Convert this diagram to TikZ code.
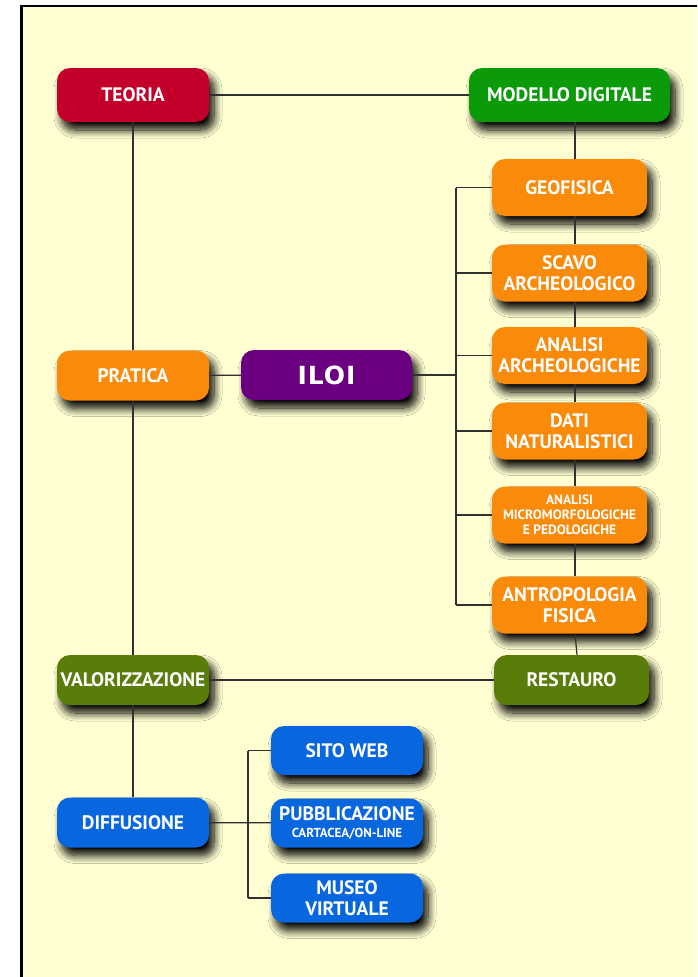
\documentclass[tikz,border=0pt]{standalone}
\usepackage{fontspec}
\setsansfont{PT Sans}
\newfontfamily\iloifont[LetterSpace=4]{DejaVu Sans}
\usepackage{xcolor}
\usepackage{tikz}
\usetikzlibrary{shadows.blur}

\definecolor{paper}{HTML}{FFFFD2}
\definecolor{theoryred}{HTML}{C3002B}
\definecolor{modelgreen}{HTML}{0A9A0A}
\definecolor{fieldorange}{HTML}{FA8A0A}
\definecolor{iloipurple}{HTML}{6A0080}
\definecolor{olive}{HTML}{5A7D0A}
\definecolor{webblue}{HTML}{0866DF}
\definecolor{wire}{HTML}{303030}

\begin{document}
\begin{tikzpicture}[
  x=1pt, y=-1pt,
  every node/.style={font=\sffamily\bfseries\fontsize{19.5}{21}\selectfont},
  box/.style={rounded corners=13pt, minimum width=152pt, minimum height=50pt, inner xsep=1pt,
    align=center, text=white,
    blur shadow={shadow xshift=5pt, shadow yshift=-8pt, shadow blur radius=8pt, shadow blur steps=10, shadow opacity=100}},
  topbox/.style={box, minimum height=54pt},
  fieldbox/.style={box, fill=fieldorange, minimum width=155pt, minimum height=57pt},
  webbox/.style={box, fill=webblue, minimum height=49pt},
  small/.style={font=\sffamily\bfseries\fontsize{13.5}{15}\selectfont},
  conn/.style={draw=wire, line width=1.2pt}
]
% frame
\useasboundingbox (0,0) rectangle (697,977);
\clip (0,0) rectangle (697,977);
\fill[white] (0,0) rectangle (697,977);
\draw[fill=paper, line width=2.5pt] (21.3,6.2) rectangle (720,1000);

% left column
\node[topbox, fill=theoryred] (teoria) at (133,95) {TEORIA};
\node[box, fill=fieldorange] (pratica) at (133,375.5) {PRATICA};
\node[box, fill=olive] (valor) at (133,680) {VALORIZZAZIONE};
\node[box, fill=webblue] (diff) at (133,822.5) {DIFFUSIONE};

% centre
\node[box, fill=iloipurple, minimum width=171pt, font=\iloifont\bfseries\fontsize{25}{28}\selectfont] (iloi) at (326.5,375) {ILOI};

% right column
\node[topbox, fill=modelgreen, minimum width=201pt] (modello) at (569.5,95) {MODELLO DIGITALE};
\node[fieldbox] (geo) at (569.5,187.5) {GEOFISICA};
\node[fieldbox] (scavo) at (569.5,273) {SCAVO\\ARCHEOLOGICO};
\node[fieldbox] (analisi) at (569.5,355.5) {ANALISI\\ARCHEOLOGICHE};
\node[fieldbox] (dati) at (569.5,431) {DATI\\NATURALISTICI};
\node[fieldbox, small] (micro) at (569.5,515) {ANALISI\\MICROMORFOLOGICHE\\E PEDOLOGICHE};
\node[fieldbox] (antro) at (569.5,605) {ANTROPOLOGIA\\FISICA};
\node[box, fill=olive, minimum width=155pt] (restauro) at (571.5,680) {RESTAURO};

% diffusion outputs
\node[webbox] (sito) at (347,750.5) {SITO WEB};
\node[webbox] (pubbl) at (347,823) {PUBBLICAZIONE\\[-4pt]{\fontsize{13}{14}\selectfont CARTACEA/ON-LINE}};
\node[webbox] (museo) at (347,898) {MUSEO\\VIRTUALE};

% connectors
\draw[conn] (teoria) -- (modello);
\draw[conn] (teoria) -- (pratica);
\draw[conn] (pratica) -- (valor);
\draw[conn] (valor) -- (diff);
\draw[conn] (pratica) -- (iloi);
\draw[conn] (valor) -- (restauro);
\foreach \a/\b in {modello/geo, geo/scavo, scavo/analisi, analisi/dati, dati/micro, micro/antro, antro/restauro}
  \draw[conn] ([xshift=5.5pt]\a.south) -- ([xshift=5.5pt]\b.north);

\coordinate (fieldbus) at (456,0);
\draw[conn] (iloi) -- (iloi -| fieldbus);
\draw[conn] (geo.west -| fieldbus) -- (antro.west -| fieldbus);
\foreach \n in {geo, scavo, analisi, dati, micro, antro}
  \draw[conn] (\n.west -| fieldbus) -- (\n.west);

\coordinate (webbus) at (248,0);
\draw[conn] (diff) -- (pubbl);
\draw[conn] (sito.west -| webbus) -- (museo.west -| webbus);
\foreach \n in {sito, museo}
  \draw[conn] (\n.west -| webbus) -- (\n.west);
\end{tikzpicture}
\end{document}
